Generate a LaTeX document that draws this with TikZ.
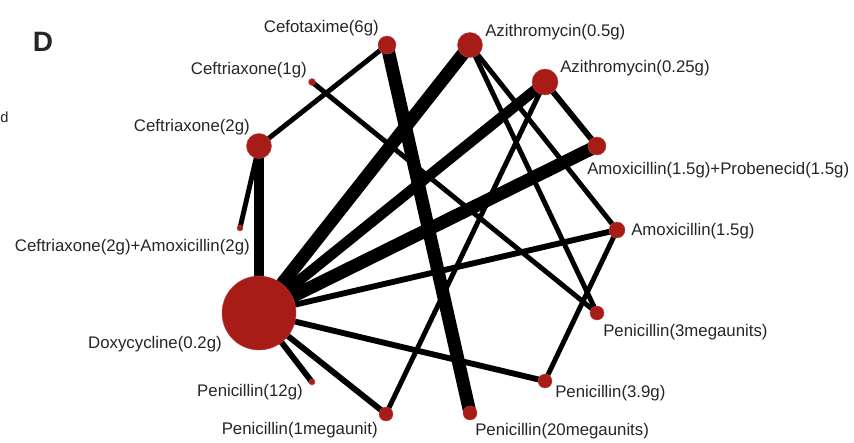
\documentclass[tikz,border=0pt]{standalone}
\usepackage{fontspec}
\setmainfont{Liberation Sans}
\usepackage{tikz}
\usetikzlibrary{backgrounds}
\definecolor{netred}{RGB}{168,28,24}
\tikzstyle{trt} = [circle, fill=netred, draw=netred!80!white, line width=0.3pt, inner sep=0pt]
\tikzstyle{lbl} = [inner sep=0pt, text=black!85]
\tikzstyle{thin} = [line width=3.7pt]
\tikzstyle{mid} = [line width=4.4pt]
\tikzstyle{fat} = [line width=8pt]
\tikzstyle{huge} = [line width=9.8pt]

\begin{document}
\begin{tikzpicture}[x=0.75pt, y=-0.75pt, font=\fontsize{12.6}{14}\selectfont]
    \useasboundingbox (0,0) rectangle (854,443);
    \node[lbl, font=\bfseries\fontsize{21}{24}\selectfont] (panel) at (43,42) {D};
    \node[lbl, anchor=west, font=\fontsize{11}{12}\selectfont] (cut) at (0,117) {d};

    \node[trt, minimum size=13.5pt] (cefo6) at (387,45) {};
    \node[trt, minimum size=5.2pt] (ceft1) at (312,82) {};
    \node[trt, minimum size=18.8pt] (ceft2) at (259,146) {};
    \node[trt, minimum size=4.5pt] (ceftamox) at (240,228) {};
    \node[trt, minimum size=55.5pt] (doxy) at (259,313) {};
    \node[trt, minimum size=4.5pt] (pen12) at (312,382) {};
    \node[trt, minimum size=10.5pt] (pen1mu) at (386,414) {};
    \node[trt, minimum size=10.5pt] (pen20mu) at (470,413) {};
    \node[trt, minimum size=10.5pt] (pen39) at (545,381) {};
    \node[trt, minimum size=10.5pt] (pen3mu) at (597,313) {};
    \node[trt, minimum size=12pt] (amox) at (617,230) {};
    \node[trt, minimum size=13.5pt] (amoxprob) at (597,146) {};
    \node[trt, minimum size=19.5pt] (azi025) at (545,82) {};
    \node[trt, minimum size=18.8pt] (azi05) at (470,45) {};

    \node[lbl, anchor=east] (l-cefo6) at (379,28) {Cefotaxime(6g)};
    \node[lbl, anchor=east] (l-ceft1) at (307,70) {Ceftriaxone(1g)};
    \node[lbl, anchor=east] (l-ceft2) at (250,127) {Ceftriaxone(2g)};
    \node[lbl, anchor=east] (l-ceftamox) at (250,247) {Ceftriaxone(2g)+Amoxicillin(2g)};
    \node[lbl, anchor=east] (l-doxy) at (222,344) {Doxycycline(0.2g)};
    \node[lbl, anchor=east] (l-pen12) at (303,392) {Penicillin(12g)};
    \node[lbl, anchor=east] (l-pen1mu) at (378,430) {Penicillin(1megaunit)};
    \node[lbl, anchor=west] (l-pen20mu) at (475,431) {Penicillin(20megaunits)};
    \node[lbl, anchor=west] (l-pen39) at (555,393) {Penicillin(3.9g)};
    \node[lbl, anchor=west] (l-pen3mu) at (603,332) {Penicillin(3megaunits)};
    \node[lbl, anchor=west] (l-amox) at (631,231) {Amoxicillin(1.5g)};
    \node[lbl, anchor=west] (l-amoxprob) at (587,170) {Amoxicillin(1.5g)+Probenecid(1.5g)};
    \node[lbl, anchor=west] (l-azi025) at (560,68) {Azithromycin(0.25g)};
    \node[lbl, anchor=west] (l-azi05) at (485,32) {Azithromycin(0.5g)};

    \begin{pgfonlayer}{background}
        \fill[white] (0,0) rectangle (854,443);
        \draw[thin] (cefo6.center) -- (ceft2.center);
        \draw[huge] (cefo6.center) -- (pen20mu.center);
        \draw[thin] (ceft1.center) -- (pen3mu.center);
        \draw[fat] (ceft2.center) -- (doxy.center);
        \draw[thin] (ceft2.center) -- (ceftamox.center);
        \draw[huge] (doxy.center) -- (azi05.center);
        \draw[fat] (doxy.center) -- (azi025.center);
        \draw[huge] (doxy.center) -- (amoxprob.center);
        \draw[mid] (doxy.center) -- (amox.center);
        \draw[mid] (doxy.center) -- (pen39.center);
        \draw[mid] (doxy.center) -- (pen12.center);
        \draw[mid] (doxy.center) -- (pen1mu.center);
        \draw[thin] (azi05.center) -- (amox.center);
        \draw[thin] (azi05.center) -- (pen3mu.center);
        \draw[mid] (azi025.center) -- (amoxprob.center);
        \draw[thin] (azi025.center) -- (pen1mu.center);
        \draw[thin] (amox.center) -- (pen39.center);
    \end{pgfonlayer}
\end{tikzpicture}
\end{document}
